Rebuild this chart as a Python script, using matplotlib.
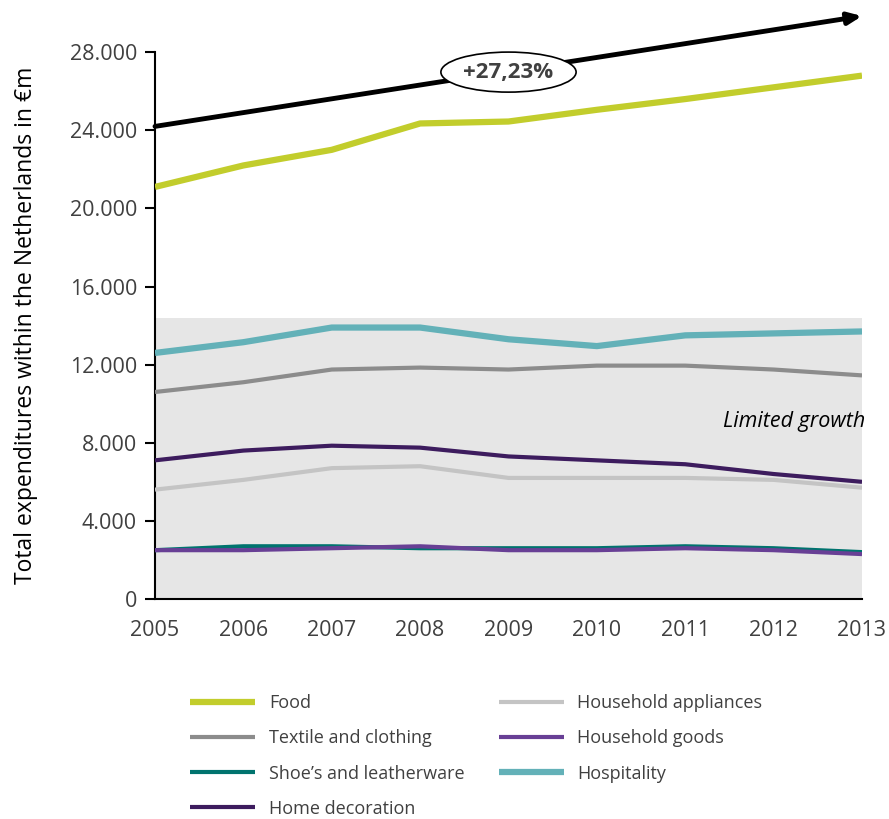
import matplotlib
matplotlib.use("Agg")
import matplotlib.pyplot as plt
from matplotlib.patches import Ellipse, Rectangle

years = [2005, 2006, 2007, 2008, 2009, 2010, 2011, 2012, 2013]
food = [21100, 22200, 23000, 24350, 24450, 25050, 25600, 26200, 26800]
textile = [10600, 11100, 11750, 11850, 11750, 11950, 11950, 11750, 11450]
shoes = [2500, 2700, 2700, 2600, 2600, 2600, 2700, 2600, 2400]
home_deco = [7100, 7600, 7850, 7750, 7300, 7100, 6900, 6400, 6000]
appliances = [5600, 6100, 6700, 6800, 6200, 6200, 6200, 6100, 5700]
household_goods = [2500, 2500, 2600, 2700, 2500, 2500, 2600, 2500, 2300]
hospitality = [12600, 13150, 13900, 13900, 13300, 12950, 13500, 13600, 13700]
yticks = [0, 4000, 8000, 12000, 16000, 20000, 24000, 28000]
ytick_labels = ["0", "4.000", "8.000", "12.000", "16.000", "20.000", "24.000", "28.000"]
trend_start, trend_end = 24200, 29850
shade_top = 14400

plt.rcParams['font.family'] = ['Open Sans', 'DejaVu Sans']

fig = plt.figure(figsize=(8.89, 8.19), dpi=100)
ax = fig.add_axes([155/889, 1-599/819, (862-155)/889, (599-10)/819])
ax.set_xlim(2005, 2013)
ax.set_ylim(0, 30160)

ax.add_patch(Rectangle((2005, 0), 8, shade_top, facecolor="#e6e6e6", edgecolor="none", zorder=0))

series = [
    ("Food", food, "#c2cd2c", 4.5),
    ("Textile and clothing", textile, "#8c8c8c", 3),
    ("Shoe’s and leatherware", shoes, "#00736e", 3),
    ("Home decoration", home_deco, "#3d1c5e", 3),
    ("Household appliances", appliances, "#c4c4c4", 3),
    ("Household goods", household_goods, "#683f95", 3),
    ("Hospitality", hospitality, "#63b1b8", 4.5),
]
handles = {}
for name, vals, col, lw in series:
    h, = ax.plot(years, vals, color=col, lw=lw, solid_capstyle="butt", zorder=3)
    handles[name] = h

ax.annotate("", xy=(2013, trend_end), xytext=(2005, trend_start),
            arrowprops=dict(arrowstyle="-|>,head_length=0.8,head_width=0.35", color="black", lw=3.5,
                            shrinkA=0, shrinkB=0), zorder=4)
ax.add_patch(Ellipse((2009.0, 26980), 1.53, 2050, facecolor="white", edgecolor="black", lw=1.2, zorder=5))
ax.text(2009.0, 26980, "+27,23%", ha="center", va="center", fontsize=16, fontweight="bold",
        color="#404040", zorder=6)

ax.text(2013.04, 9100, "Limited growth", ha="right", va="center", fontsize=15.5, style="italic", color="black")

for s in ["top", "right"]:
    ax.spines[s].set_visible(False)
ax.spines["left"].set_bounds(0, 28000)
ax.spines["left"].set_linewidth(1.5)
ax.spines["bottom"].set_linewidth(1.5)
ax.set_yticks(yticks)
ax.set_yticklabels(ytick_labels)
ax.set_xticks(years)
ax.set_xticklabels([str(y) for y in years])
ax.tick_params(axis="y", length=7, width=1.5, labelsize=15.5, labelcolor="#404040", pad=6)
ax.tick_params(axis="x", length=0, labelsize=15.5, labelcolor="#404040", pad=15)
ax.set_ylabel("Total expenditures within the Netherlands in €m", fontsize=16.5, color="black")
ax.yaxis.set_label_coords(-0.165, (599-325)/589)

order = ["Food", "Textile and clothing", "Shoe’s and leatherware", "Home decoration",
         "Household appliances", "Household goods", "Hospitality"]
leg = fig.legend([handles[n] for n in order], order, loc="upper left",
                 bbox_to_anchor=(174/889, 1-678/819), ncol=2, frameon=False,
                 fontsize=13, handlelength=3.6, handletextpad=0.75, columnspacing=1.9,
                 labelspacing=0.95, labelcolor="#404040")

fig.savefig("out.png", dpi=100)
